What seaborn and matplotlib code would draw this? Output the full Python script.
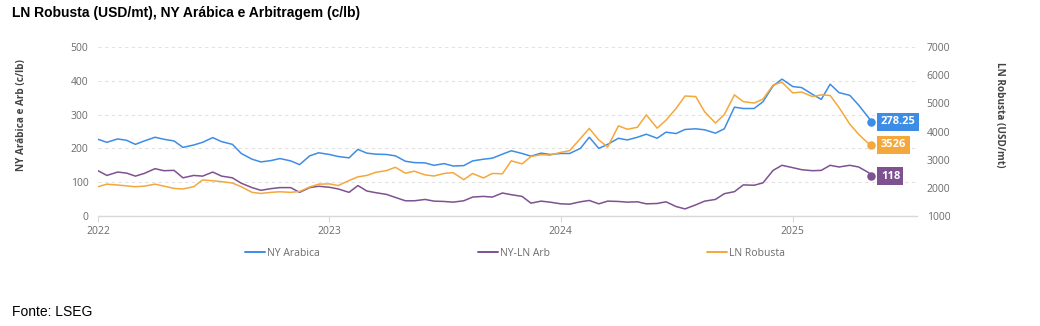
import matplotlib
matplotlib.use("Agg")
import matplotlib.pyplot as plt
import matplotlib.dates as mdates
from matplotlib.lines import Line2D
import pandas as pd
import seaborn as sns

# Semi-monthly closes (1st and mid-month), last close 2025-05-05
dates = list(pd.date_range("2022-01-01", "2025-05-01", freq="SMS")) + [pd.Timestamp("2025-05-05")]

# NY Arabica (c/lb)
ny_arabica = [
    227, 218, 228, 224, 212, 222, 233, 227, 222, 203, 210, 218,
    232, 220, 212, 185, 168, 160, 164, 170, 163, 152, 178, 187,
    182, 176, 172, 197, 186, 183, 182, 178, 162, 158, 157, 150,
    155, 148, 149, 163, 168, 171, 183, 193, 185, 177, 186, 182,
    185, 185, 200, 233, 200, 212, 230, 225, 233, 242, 230, 248,
    244, 256, 258, 255, 245, 258, 322, 318, 318, 338, 385, 405,
    383, 380, 360, 345, 390, 365, 357, 328, 290, 278.25,
]

# NY-LN arbitrage (c/lb)
ny_ln_arb = [
    134, 120, 130, 127, 118, 126, 140, 134, 135, 113, 120, 118,
    130, 118, 113, 97, 84, 76, 81, 84, 84, 70, 84, 88,
    85, 80, 70, 90, 74, 69, 64, 55, 45, 45, 49, 44,
    43, 41, 45, 56, 58, 56, 68, 63, 58, 38, 44, 41,
    36, 35, 42, 46, 36, 44, 43, 41, 42, 36, 37, 42,
    28, 21, 33, 44, 49, 66, 72, 92, 91, 98, 135, 150,
    143, 137, 134, 135, 150, 145, 150, 145, 128, 118,
]

# LN Robusta (USD/mt)
ln_robusta = [
    2040, 2130, 2100, 2070, 2040, 2060, 2130, 2060, 1980, 1960, 2040, 2280,
    2250, 2220, 2170, 2040, 1840, 1800, 1840, 1860, 1840, 1870, 2030, 2130,
    2140, 2080, 2260, 2390, 2440, 2550, 2610, 2730, 2520, 2590, 2460, 2420,
    2510, 2540, 2290, 2510, 2350, 2510, 2500, 2960, 2850, 3110, 3180, 3160,
    3260, 3320, 3750, 4110, 3700, 3450, 4200, 4080, 4150, 4590, 4120, 4400,
    4820, 5260, 5240, 4700, 4300, 4600, 5300, 5060, 5010, 5150, 5650, 5750,
    5370, 5400, 5240, 5300, 5280, 4850, 4260, 3900, 3560, 3526,
]

left_ticks = [0, 100, 200, 300, 400, 500]
right_ticks = [1000, 2000, 3000, 4000, 5000, 6000, 7000]

BLUE = "#3d8de6"
PURPLE = "#7e5190"
ORANGE = "#f4a83c"
TICK_GREY = "#6b6b6b"
LABEL_GREY = "#444444"

df = pd.DataFrame({
    "date": dates,
    "NY Arabica": ny_arabica,
    "NY-LN Arb": ny_ln_arb,
    "LN Robusta": ln_robusta,
})

sns.set_theme(style="white")
plt.rcParams["font.family"] = ["Open Sans", "DejaVu Sans"]

W, H = 1040, 326
fig = plt.figure(figsize=(W / 100, H / 100), dpi=100)
ax = fig.add_axes([98 / W, 1 - 216 / H, (917 - 98) / W, (216 - 47) / H])
ax2 = ax.twinx()

lw = 1.1
sns.lineplot(data=df, x="date", y="NY Arabica", ax=ax, color=BLUE, lw=lw)
sns.lineplot(data=df, x="date", y="NY-LN Arb", ax=ax, color=PURPLE, lw=lw)
sns.lineplot(data=df, x="date", y="LN Robusta", ax=ax2, color=ORANGE, lw=lw)

ax.set_xlim(pd.Timestamp("2022-01-01"), pd.Timestamp("2025-07-16"))
ax.set_ylim(0, 500)
ax2.set_ylim(1000, 7000)
ax.set_yticks(left_ticks)
ax2.set_yticks(right_ticks)
ax.set_xlabel("")
ax.set_ylabel("")
ax2.set_xlabel("")
ax2.set_ylabel("")

ax.xaxis.set_major_locator(mdates.YearLocator())
ax.xaxis.set_major_formatter(mdates.DateFormatter("%Y"))

ax.yaxis.grid(True, linestyle=(0, (3, 3)), color="#e2e2e2", lw=0.8)
ax.xaxis.grid(False)
ax2.grid(False)

for s in ("top", "left", "right"):
    ax.spines[s].set_visible(False)
ax.spines["bottom"].set_color("#d9d9d9")
ax.spines["bottom"].set_linewidth(1.0)
for s in ax2.spines.values():
    s.set_visible(False)

ax.tick_params(axis="y", length=0, pad=7, labelsize=7.5, labelcolor=TICK_GREY)
ax2.tick_params(axis="y", length=0, pad=7, labelsize=7.5, labelcolor=TICK_GREY)
ax.tick_params(axis="x", length=4, width=0.8, color="#d9d9d9", pad=3,
               labelsize=7.5, labelcolor=TICK_GREY, bottom=True)

# End-of-series markers with value tags
last = df.iloc[-1]
tags = [
    (ax, last["NY Arabica"], BLUE, "278.25"),
    (ax2, last["LN Robusta"], ORANGE, "3526"),
    (ax, last["NY-LN Arb"], PURPLE, "118"),
]
for a, val, col, txt in tags:
    a.scatter([last["date"]], [val], s=26, color=col, zorder=5, clip_on=False)
    a.annotate(txt, xy=(last["date"], val), xytext=(6.8, 0), textcoords="offset points",
               ha="left", va="center", fontsize=8, fontweight="bold", color="white",
               bbox=dict(boxstyle="square,pad=0.3", fc=col, ec="none"), zorder=6)

# Axis titles
fig.text(22 / W, 1 - 115 / H, "NY Arábica e Arb (c/lb)", rotation=90, ha="center", va="center",
         fontsize=7.2, fontweight="bold", color=LABEL_GREY)
fig.text(1000 / W, 1 - 115 / H, "LN Robusta (USD/mt)", rotation=270, ha="center", va="center",
         fontsize=7.2, fontweight="bold", color=LABEL_GREY)

# Legend entries
legend_items = [("NY Arabica", BLUE, 245), ("NY-LN Arb", PURPLE, 478), ("LN Robusta", ORANGE, 707)]
for name, col, x0 in legend_items:
    h = Line2D([], [], color=col, lw=1.4)
    fig.legend(handles=[h], labels=[name], loc="center left",
               bbox_to_anchor=(x0 / W, 1 - 253 / H), frameon=False,
               borderpad=0, borderaxespad=0, handlelength=1.9, handletextpad=0.25,
               fontsize=7.5, labelcolor=TICK_GREY)

# Title and source
fig.text(12 / W, 1 - 13 / H, "LN Robusta (USD/mt), NY Arábica e Arbitragem (c/lb)",
         ha="left", va="center", fontsize=10, fontweight="bold", color="#000000",
         family="Liberation Sans")
fig.text(12 / W, 1 - 312 / H, "Fonte: LSEG", ha="left", va="center", fontsize=10,
         color="#000000", family="Liberation Sans")

fig.savefig("out.png", dpi=100, facecolor="white")
